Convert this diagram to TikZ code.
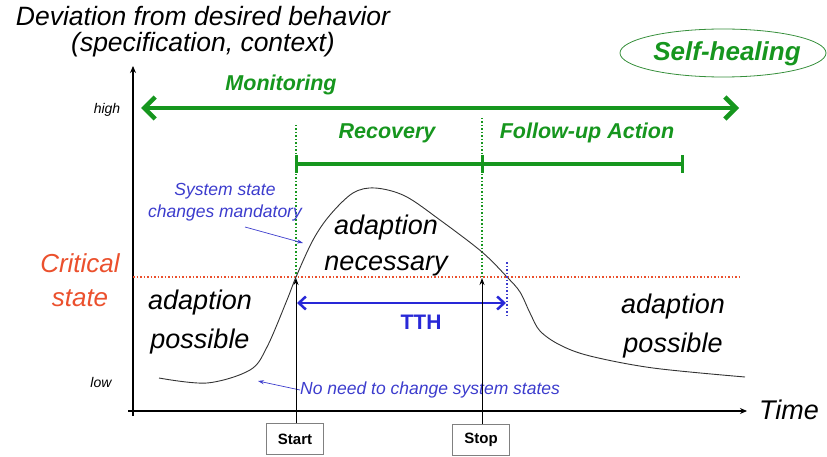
\documentclass[tikz,border=0pt]{standalone}
\usepackage{fontspec}
\setmainfont{Liberation Sans}
\usetikzlibrary{arrows.meta,shapes.geometric}
\definecolor{sgreen}{RGB}{22,150,30}
\definecolor{sblue}{RGB}{60,60,205}
\definecolor{tblue}{RGB}{40,40,215}
\definecolor{sred}{RGB}{235,80,45}
\tikzset{
  big/.style={font=\fontsize{27}{36}\selectfont\itshape, align=center, inner sep=0pt},
  greenlbl/.style={font=\fontsize{21.5}{23}\selectfont\bfseries\itshape, text=sgreen, inner sep=0pt},
  bluelbl/.style={font=\fontsize{17.5}{22}\selectfont\itshape, text=sblue, align=center, inner sep=0pt},
  tick/.style={font=\fontsize{14}{16}\selectfont\itshape, inner sep=0pt},
  evbox/.style={draw=gray, fill=white, font=\fontsize{15}{17}\selectfont\bfseries, minimum width=57pt, minimum height=31pt, inner sep=0pt, line width=0.8pt},
  gbar/.style={draw=sgreen, line width=4.5pt},
}
\begin{document}
\begin{tikzpicture}[x=1pt,y=-1pt]
\useasboundingbox (0,0) rectangle (827,457);
% axes
\coordinate (o) at (133,411);
\coordinate (ytop) at (133,66);
\coordinate (xend) at (747,411);
\draw[line width=1.8pt,-{Stealth[length=7pt,width=6pt]}] (133,416) -- (ytop);
\draw[line width=1.8pt,-{Stealth[length=7pt,width=6pt]}] (128,411) -- (xend);
\node[big, anchor=west] (time) at (759,410) {Time};
\node[big, font=\fontsize{26.5}{26}\selectfont\itshape] (ylab) at (203,32) {Deviation from desired behavior\\(specification, context)};
\node[tick] (high) at (107,110) {high};
\node[tick] (low) at (101,382) {low};
% self-healing
\node[ellipse, draw=sgreen!70!gray, line width=0.8pt, minimum width=206pt, minimum height=48pt, inner sep=0pt] (sh) at (723,53) {};
\node[greenlbl, font=\fontsize{26}{28}\selectfont\bfseries\itshape] (shl) at (727,54) {Self-healing};
% monitoring
\coordinate (m1) at (141,108);
\coordinate (m2) at (739,108);
\draw[draw=sgreen, line width=4.5pt, {Straight Barb[length=11pt,width=22pt,line width=4.5pt]}-{Straight Barb[length=11pt,width=22pt,line width=4.5pt]}] (m1) -- (m2);
\node[greenlbl] (mon) at (281,85) {Monitoring};
% recovery / follow-up
\coordinate (r1) at (296,164);
\coordinate (r2) at (482,164);
\coordinate (r3) at (682,164);
\draw[gbar] (r1) -- (r3);
\foreach \p in {r1,r2,r3} \draw[sgreen, line width=3pt] ([yshift=-9pt]\p) -- ([yshift=9pt]\p);
\node[greenlbl] (rec) at (387,133) {Recovery};
\node[greenlbl] (fua) at (587,133) {Follow-up Action};
% dotted verticals
\draw[sgreen, line width=1.5pt, dotted] (296,125) -- (296,277);
\draw[sgreen, line width=1.5pt, dotted] (482,118) -- (482,277);
% critical line
\draw[sred, line width=1.5pt, dotted] (133,277) -- (742,277);
\node[text=sred, font=\fontsize{26}{34}\selectfont\itshape, align=center, inner sep=0pt] (crit) at (80,280) {Critical\\state};
% curve
\draw[line width=0.9pt, black!80] plot[smooth, tension=0.55] coordinates {
 (159,378) (207,383) (250,370) (267,347) (287,300) (296,277) (313,240) (330,215) (353,193) (375,188)
 (405,196) (440,220) (482,252) (507,277) (520,292) (530,313) (540,331) (560,345) (590,356) (653,368) (745,377)};
% blue dotted at TTH end
\draw[sblue, line width=1.5pt, dotted] (507,262) -- (507,318);
% TTH
\coordinate (t1) at (297,303);
\coordinate (t2) at (506,303);
\draw[tblue, line width=2.5pt, {Straight Barb[length=7pt,width=13pt,line width=2.5pt]}-{Straight Barb[length=7pt,width=13pt,line width=2.5pt]}] (t1) -- (t2);
\node[text=tblue, font=\fontsize{21}{23}\selectfont\bfseries, inner sep=0pt] (tth) at (421,322) {TTH};
% text regions
\node[big] (an) at (386,246) {adaption\\necessary};
\node[big, font=\fontsize{27}{39}\selectfont\itshape] (ap1) at (200,322) {adaption\\possible};
\node[big, font=\fontsize{27}{39}\selectfont\itshape] (ap2) at (673,326) {adaption\\possible};
% annotations
\node[bluelbl] (ssc) at (225,202) {System state\\changes mandatory};
\coordinate (ssa) at (245,227);
\coordinate (ssb) at (303,243);
\draw[sblue, line width=0.7pt, -{Stealth[length=6pt,width=4pt]}] (ssa) -- (ssb);
\node[bluelbl, anchor=west] (nn) at (300,390) {No need to change system states};
\draw[sblue, line width=0.7pt, -{Stealth[length=6pt,width=4pt]}] (nn.west) -- (258,381);
% start / stop
\node[evbox] (start) at (295,439) {Start};
\node[evbox] (stop) at (481,440) {Stop};
\coordinate (sa) at (296,278);
\coordinate (sb) at (482,278);
\draw[line width=0.8pt, -{Stealth[length=7pt,width=5pt]}] (start.north -| sa) -- (sa);
\draw[line width=0.8pt, -{Stealth[length=7pt,width=5pt]}] (stop.north -| sb) -- (sb);
\end{tikzpicture}
\end{document}
